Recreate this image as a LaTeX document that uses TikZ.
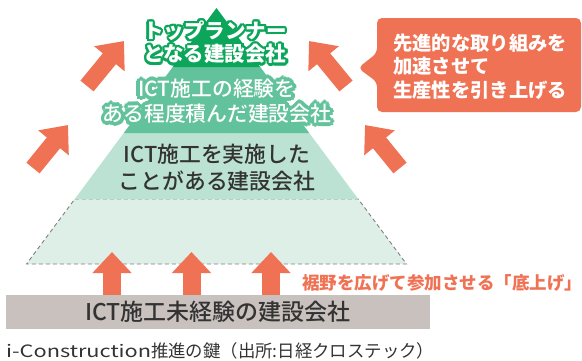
\documentclass[tikz,border=0pt]{standalone}
\usepackage{fontspec}
\setmainfont{Noto Sans CJK JP}
\newfontfamily\medfont{Noto Sans CJK JP Medium}
\usepackage{contour}
\usetikzlibrary{arrows.meta}
\definecolor{tierone}{HTML}{0BA65A}
\definecolor{tiertwo}{HTML}{62C29B}
\definecolor{tierthree}{HTML}{BBE2D3}
\definecolor{tierfour}{HTML}{DDEFE6}
\definecolor{accent}{HTML}{F07254}
\definecolor{barbg}{HTML}{C9C1BE}
\definecolor{ink}{HTML}{333333}
\tikzset{
  diagarrow/.style={draw=accent, line width=17pt, -{Triangle[length=23pt,width=38pt]}},
  uparrow/.style={draw=accent, line width=18pt, -{Triangle[length=21pt,width=38pt]}},
  dashline/.style={draw=black!50, line width=0.9pt, dash pattern=on 4pt off 3pt},
  jp/.style={inner sep=0pt, align=center}
}
\begin{document}
\begin{tikzpicture}[x=1pt,y=-1pt]
\useasboundingbox (0,0) rectangle (582,360);
% pyramid tiers
\fill[tierfour] (74.8,199) -- (358.2,199) -- (406.5,264) -- (26.5,264) -- cycle;
\draw[dashline] (74.8,199) -- (358.2,199) -- (406.5,264) -- (26.5,264) -- cycle;
\fill[tierthree] (123.75,133) -- (309.25,133) -- (358.2,199) -- (74.8,199) -- cycle;
\fill[tiertwo] (172.7,67) -- (260.3,67) -- (309.25,133) -- (123.75,133) -- cycle;
\fill[tierone] (216.5,8) -- (260.3,67) -- (172.7,67) -- cycle;
% diagonal arrows
\coordinate (ulT) at (87,86); \coordinate (ulH) at (124,41);
\coordinate (llT) at (33,168); \coordinate (llH) at (68,125);
\coordinate (urT) at (346,86); \coordinate (urH) at (309,41);
\coordinate (lrT) at (400,168); \coordinate (lrH) at (365,125);
\draw[diagarrow] (ulT) -- (ulH);
\draw[diagarrow] (llT) -- (llH);
\draw[diagarrow] (urT) -- (urH);
\draw[diagarrow] (lrT) -- (lrH);
% bottom bar
\fill[barbg] (6,295) rectangle (430,329);
\node[jp, text=ink, font=\medfont\fontsize{23}{27}\selectfont] (bar) at (218,312) {ICT施工未経験の建設会社};
% up arrows
\coordinate (a1T) at (112,295); \coordinate (a1H) at (112,252);
\coordinate (a2T) at (191.5,295); \coordinate (a2H) at (191.5,252);
\coordinate (a3T) at (271,295); \coordinate (a3H) at (271,252);
\draw[uparrow] (a1T) -- (a1H);
\draw[uparrow] (a2T) -- (a2H);
\draw[uparrow] (a3T) -- (a3H);
% tier texts with halo outlines
\contourlength{2.4pt}
\node[jp, text=white, font=\bfseries\fontsize{20.5}{23.5}\selectfont] (t1) at (215,43.5)
  {\contour{tierone}{トップランナー}\\\contour{tierone}{となる建設会社}};
\contourlength{3.6pt}
\node[jp, text=white, font=\medfont\fontsize{20.8}{25}\selectfont] (t2) at (217,103)
  {\contour{tiertwo}{ICT施工の経験を}\\\contour{tiertwo}{ある程度積んだ建設会社}};
\node[jp, text=ink, font=\medfont\fontsize{21.8}{27.5}\selectfont] (t3) at (217,167.5)
  {ICT施工を実施した\\ことがある建設会社};
% callout
\fill[accent, rounded corners=5pt] (377,18) -- (581,18) -- (581,112) -- (377,112) -- (377,82) -- (358,68) -- (377,53) -- cycle;
\node[jp, align=left, anchor=west, text=white, font=\bfseries\fontsize{19.3}{23.5}\selectfont] (call) at (393,66.5)
  {先進的な取り組みを\\加速させて\\生産性を引き上げる};
% base label
\node[jp, anchor=west, text=accent, font=\bfseries\fontsize{17.5}{20}\selectfont] (base) at (302,283) {裾野を広げて参加させる「底上げ」};
% caption
\node[jp, anchor=west, text=ink, font=\fontsize{17.4}{20}\selectfont] (cap) at (6,350.5) {\scalebox{1.28}[1]{\fontsize{17}{20}\selectfont i-Construction}推進の鍵（出所:日経クロステック）};
\end{tikzpicture}
\end{document}
